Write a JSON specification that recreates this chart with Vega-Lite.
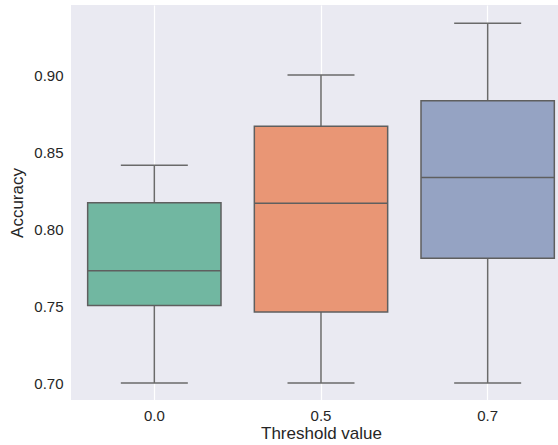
{
  "$schema": "https://vega.github.io/schema/vega-lite/v6.json",
  "autosize": {"type": "none"},
  "width": 487,
  "height": 395,
  "padding": {"left": 71, "top": 5, "right": 0, "bottom": 45},
  "background": "white",
  "config": {
    "view": {"fill": "#eaeaf2", "stroke": null},
    "axis": {
      "labelFont": "Liberation Sans",
      "titleFont": "Liberation Sans",
      "labelFontSize": 15,
      "titleFontSize": 17,
      "labelColor": "#262626",
      "titleColor": "#262626",
      "titleFontWeight": "normal",
      "domain": false,
      "ticks": false
    }
  },
  "data": {
    "values": [
      {"threshold": "0.0", "lo": 0.700, "q1": 0.7504, "med": 0.7729, "q3": 0.8171, "hi": 0.8414},
      {"threshold": "0.5", "lo": 0.700, "q1": 0.7461, "med": 0.8168, "q3": 0.8668, "hi": 0.900},
      {"threshold": "0.7", "lo": 0.700, "q1": 0.7811, "med": 0.8335, "q3": 0.8834, "hi": 0.9336}
    ]
  },
  "encoding": {
    "x": {
      "field": "threshold",
      "type": "nominal",
      "scale": {"type": "band", "range": [0, 500], "paddingInner": 0, "paddingOuter": 0},
      "axis": {"title": "Threshold value", "labelAngle": 0, "labelPadding": 8, "titlePadding": 2, "grid": true, "gridColor": "white", "gridWidth": 1.2, "bandPosition": 0.5}
    }
  },
  "layer": [
    {
      "mark": {"type": "rule", "color": "#6a6a6a", "strokeWidth": 1.5},
      "encoding": {
        "y": {"field": "lo", "type": "quantitative", "scale": {"domain": [0.689, 0.9455], "nice": false, "zero": false},
          "axis": {"title": "Accuracy", "values": [0.70, 0.75, 0.80, 0.85, 0.90], "format": ".2f", "grid": false, "labelPadding": 8, "titlePadding": 7}},
        "y2": {"field": "q1"}
      }
    },
    {
      "mark": {"type": "rule", "color": "#6a6a6a", "strokeWidth": 1.5},
      "encoding": {
        "y": {"field": "q3", "type": "quantitative"},
        "y2": {"field": "hi"}
      }
    },
    {
      "mark": {"type": "bar", "width": {"band": 0.8}, "stroke": "#5f5f5f", "strokeWidth": 1.5, "opacity": 1},
      "encoding": {
        "y": {"field": "q1", "type": "quantitative"},
        "y2": {"field": "q3"},
        "color": {"field": "threshold", "type": "nominal", "scale": {"range": ["#71b7a1", "#e99675", "#95a3c3"]}, "legend": null}
      }
    },
    {
      "mark": {"type": "tick", "size": 133, "thickness": 1.5, "color": "#5f5f5f", "opacity": 1},
      "encoding": {"y": {"field": "med", "type": "quantitative"}}
    },
    {
      "mark": {"type": "tick", "size": 67, "thickness": 1.5, "color": "#6a6a6a", "opacity": 1},
      "encoding": {"y": {"field": "lo", "type": "quantitative"}}
    },
    {
      "mark": {"type": "tick", "size": 67, "thickness": 1.5, "color": "#6a6a6a", "opacity": 1},
      "encoding": {"y": {"field": "hi", "type": "quantitative"}}
    }
  ]
}
